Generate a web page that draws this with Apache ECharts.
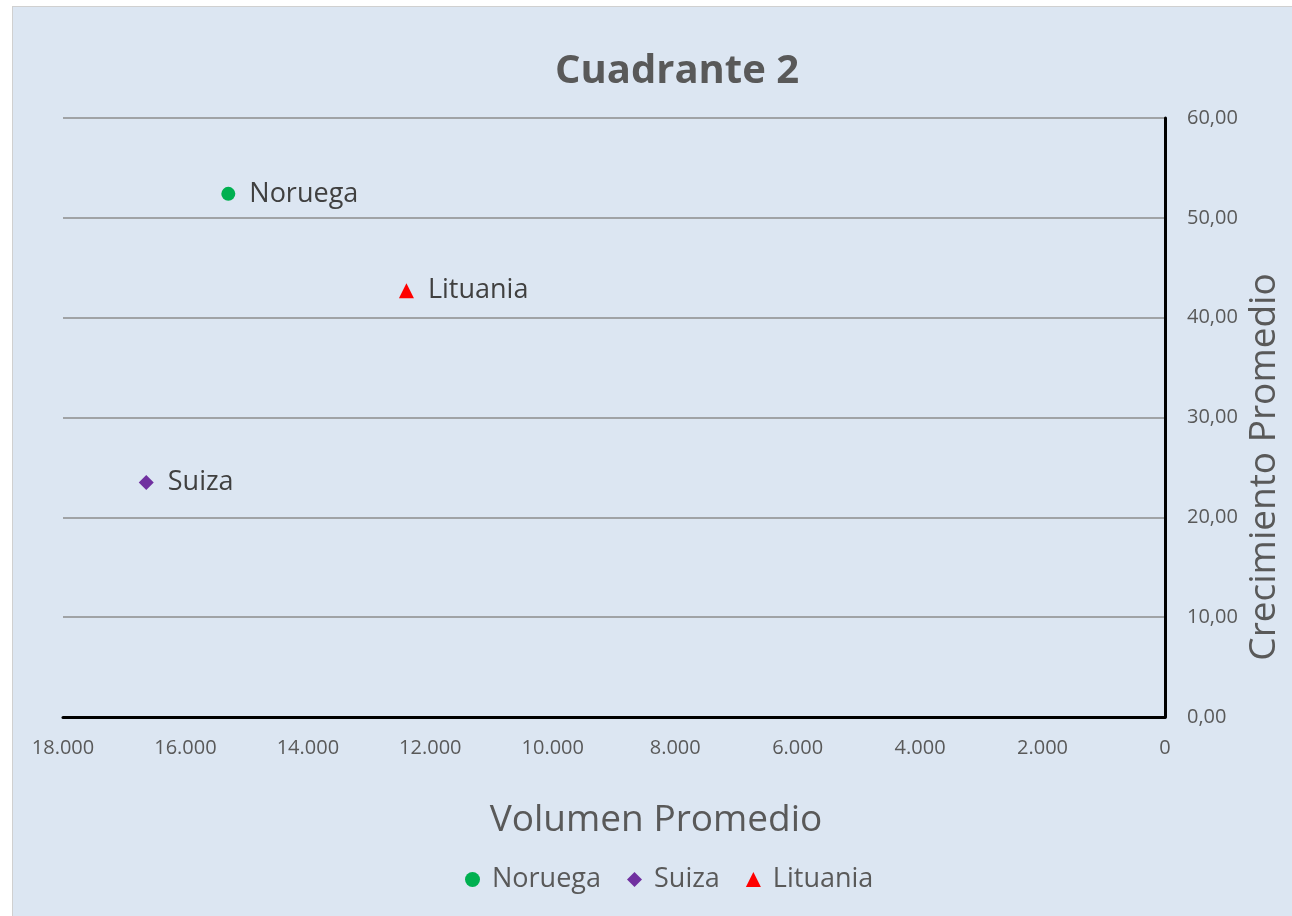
<!DOCTYPE html>
<html lang="es">
  <head>
    <meta charset="UTF-8" />
    <title>Cuadrante 2</title>
    <script src="https://cdn.jsdelivr.net/npm/echarts@6/dist/echarts.min.js"></script>
    <style>
      html,
      body {
        margin: 0;
        padding: 0;
        background: #ffffff;
      }
      #chart {
        position: absolute;
        left: 12px;
        top: 6px;
        width: 1279px;
        height: 909px;
        background: #dce6f2;
        border-left: 1px solid #d0d0d0;
        border-top: 1px solid #d0d0d0;
      }
    </style>
  </head>
  <body>
    <div id="chart"></div>
    <script>
      // datos
      var paises = ["Noruega", "Suiza", "Lituania"];
      var volumen = [15300, 16640, 12390];
      var crecimiento = [52.4, 23.5, 42.7];
      var colores = ["#00b050", "#7030a0", "#ff0000"];
      var simbolos = ["circle", "diamond", "triangle"];
      var tamanos = [14, 15, 15];

      var fuente = "'Open Sans', 'Noto Sans', sans-serif";

      function miles(v) {
        return String(v).replace(/\B(?=(\d{3})+(?!\d))/g, ".");
      }

      var chart = echarts.init(document.getElementById("chart"));

      var series = paises.map(function (p, i) {
        return {
          name: p,
          type: "scatter",
          symbol: simbolos[i],
          symbolSize: tamanos[i],
          itemStyle: { color: colores[i], opacity: 1 },
          data: [[volumen[i], crecimiento[i]]],
          label: {
            show: true,
            position: "right",
            distance: 14,
            formatter: p,
            fontFamily: fuente,
            fontSize: 27,
            color: "#404040",
          },
          emphasis: { disabled: true },
        };
      });

      chart.setOption({
        animation: false,
        backgroundColor: "#dce6f2",
        title: {
          text: "Cuadrante 2",
          left: 537,
          top: 40,
          textStyle: {
            fontFamily: fuente,
            fontSize: 40,
            fontWeight: "bold",
            color: "#595959",
          },
        },
        legend: {
          bottom: 18,
          left: 447,
          itemGap: 26,
          itemWidth: 15,
          itemHeight: 15,
          formatter: " {name}",
          textStyle: { fontFamily: fuente, fontSize: 27, color: "#595959" },
          data: paises.map(function (p, i) {
            return { name: p, icon: simbolos[i], itemStyle: { opacity: 1 } };
          }),
        },
        grid: { left: 50, right: 127, top: 111, bottom: 199 },
        xAxis: {
          type: "value",
          inverse: true,
          min: 0,
          max: 18000,
          interval: 2000,
          axisLine: { show: true, onZero: false, lineStyle: { color: "#000000", width: 3 } },
          axisTick: { show: false },
          splitLine: { show: false },
          axisLabel: {
            margin: 21,
            fontFamily: fuente,
            fontSize: 20,
            color: "#595959",
            formatter: function (v) {
              return miles(v);
            },
          },
        },
        yAxis: {
          type: "value",
          position: "right",
          min: 0,
          max: 60,
          interval: 10,
          axisLine: { show: true, lineStyle: { color: "#000000", width: 3 } },
          axisTick: { show: false },
          splitLine: { lineStyle: { color: "#8c8c8c", width: 1.5 } },
          axisLabel: {
            margin: 22,
            fontFamily: fuente,
            fontSize: 20,
            color: "#595959",
            formatter: function (v) {
              return v.toFixed(2).replace(".", ",");
            },
          },
        },
        graphic: [
          {
            type: "text",
            x: 643,
            y: 813,
            style: {
              text: "Volumen Promedio",
              fontFamily: fuente,
              fontSize: 37,
              fill: "#595959",
              textAlign: "center",
              textVerticalAlign: "middle",
            },
          },
          {
            type: "text",
            x: 1251,
            y: 460,
            rotation: Math.PI / 2,
            style: {
              text: "Crecimiento Promedio",
              fontFamily: fuente,
              fontSize: 37,
              fill: "#595959",
              textAlign: "center",
              textVerticalAlign: "middle",
            },
          },
        ],
        series: series,
      });
    </script>
  </body>
</html>
